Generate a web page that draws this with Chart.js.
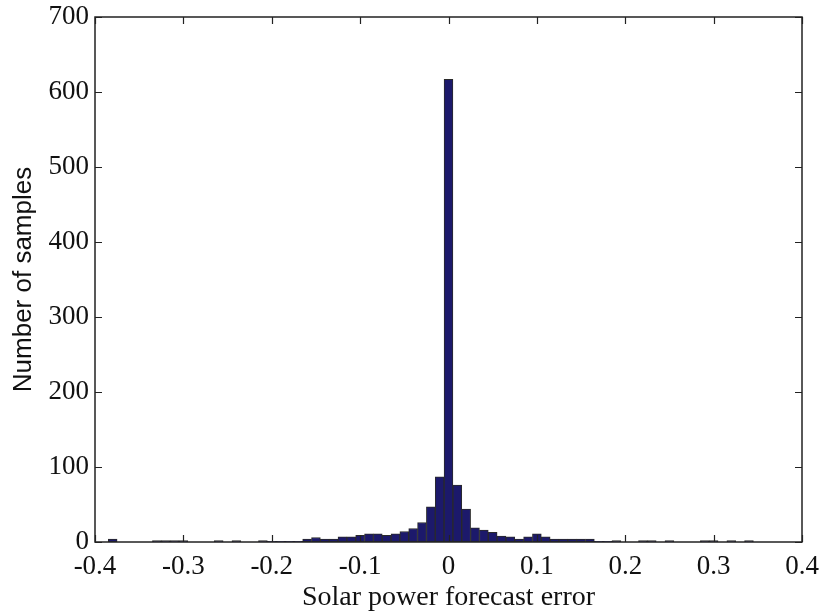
<!DOCTYPE html>
<html>
<head>
<meta charset="utf-8">
<script src="https://cdn.jsdelivr.net/npm/chart.js@4/dist/chart.umd.min.js"></script>
<style>
  html, body { margin: 0; padding: 0; background: #fff; }
  canvas { display: block; }
</style>
</head>
<body>
<canvas id="hist" width="823" height="616"></canvas>
<script>
//======== DATA: histogram of solar power forecast error ===========//

// bin centres (width 0.01)
let binCenters = [
    -0.38, -0.37, -0.36, -0.35, -0.34, -0.33, -0.32, -0.31, -0.30, -0.29,
    -0.28, -0.27, -0.26, -0.25, -0.24, -0.23, -0.22, -0.21, -0.20, -0.19,
    -0.18, -0.17, -0.16, -0.15, -0.14, -0.13, -0.12, -0.11, -0.10, -0.09,
    -0.08, -0.07, -0.06, -0.05, -0.04, -0.03, -0.02, -0.01,  0.00,  0.01,
     0.02,  0.03,  0.04,  0.05,  0.06,  0.07,  0.08,  0.09,  0.10,  0.11,
     0.12,  0.13,  0.14,  0.15,  0.16,  0.17,  0.18,  0.19,  0.20,  0.21,
     0.22,  0.23,  0.24,  0.25,  0.26,  0.27,  0.28,  0.29,  0.30,  0.31,
     0.32,  0.33,  0.34,  0.35,  0.36,  0.37,  0.38
];

// number of samples in each bin
let sampleCounts = [
      4,   0,   0,   0,   0,   2,   2,   2,   2,   0,
      0,   0,   2,   0,   2,   0,   0,   2,   1,   1,
      1,   1,   4,   6,   4,   4,   7,   7,   9,  11,
     11,   9,  11,  14,  18,  26,  47,  87, 617,  76,
     44,  19,  16,  13,   8,   7,   4,   7,  11,   7,
      4,   4,   4,   4,   4,   1,   1,   2,   0,   0,
      2,   2,   0,   2,   0,   0,   0,   2,   2,   0,
      2,   0,   2,   0,   0,   0,   0
];

let xTicks = [-0.4, -0.3, -0.2, -0.1, 0, 0.1, 0.2, 0.3, 0.4];
let yTicks = [0, 100, 200, 300, 400, 500, 600, 700];

let xTitle = 'Solar power forecast error';
let yTitle = 'Number of samples';

// box round the plot with inward ticks on all four sides, like matlab
let frame = {
    id: 'frame',
    afterDatasetsDraw: function (chart) {
        let ctx = chart.ctx;
        let a = chart.chartArea;
        let xs = chart.scales.x;
        let ys = chart.scales.y;
        let len = 7;
        ctx.save();
        ctx.strokeStyle = '#222';
        ctx.lineWidth = 1.5;
        ctx.strokeRect(a.left, a.top, a.right - a.left, a.bottom - a.top);
        ctx.lineWidth = 1.2;
        ctx.beginPath();
        xTicks.forEach(function (v) {
            let px = Math.round(xs.getPixelForValue(v)) + 0.5;
            ctx.moveTo(px, a.bottom); ctx.lineTo(px, a.bottom - len);
            ctx.moveTo(px, a.top);    ctx.lineTo(px, a.top + len);
        });
        yTicks.forEach(function (v) {
            let py = Math.round(ys.getPixelForValue(v)) + 0.5;
            ctx.moveTo(a.left, py);  ctx.lineTo(a.left + len, py);
            ctx.moveTo(a.right, py); ctx.lineTo(a.right - len, py);
        });
        ctx.stroke();
        ctx.restore();
    }
};

let serif = 'Liberation Serif, Times New Roman, serif';

new Chart(document.getElementById('hist').getContext('2d'), {
    type: 'bar',
    data: {
        datasets: [{
            label: 'samples',
            data: binCenters.map(function (x, i) { return { x: x, y: sampleCounts[i] }; }),
            backgroundColor: '#1c196b',
            borderColor: '#2a2a2a',
            borderWidth: 1,
            borderSkipped: false,
            barPercentage: 1,
            categoryPercentage: 1
        }]
    },
    plugins: [frame],
    options: {
        responsive: false,
        animation: false,
        devicePixelRatio: 1,
        layout: { padding: { top: 17, right: 21, left: 0, bottom: 0 } },
        plugins: {
            legend: { display: false },
            tooltip: { enabled: false }
        },
        scales: {
            x: {
                type: 'linear',
                offset: false,
                min: -0.4,
                max: 0.4,
                afterBuildTicks: function (s) { s.ticks = xTicks.map(function (v) { return { value: v }; }); },
                afterFit: function (s) {
                    s.height = 74;
                    s.paddingLeft = 0;
                    s.paddingRight = 0;
                },
                grid: { display: false, drawTicks: false, offset: false },
                border: { display: false },
                ticks: {
                    autoSkip: false,
                    maxRotation: 0,
                    padding: 9,
                    color: '#111',
                    font: { family: serif, size: 27 },
                    callback: function (v) { return String(Number(v.toFixed(1))); }
                },
                title: {
                    display: true,
                    text: xTitle,
                    color: '#111',
                    font: { family: serif, size: 28 },
                    padding: { top: 0, bottom: 2 }
                }
            },
            y: {
                type: 'linear',
                min: 0,
                max: 700,
                afterBuildTicks: function (s) { s.ticks = yTicks.map(function (v) { return { value: v }; }); },
                afterFit: function (s) {
                    s.width = 95;
                    s.paddingTop = 0;
                    s.paddingBottom = 0;
                },
                grid: { display: false, drawTicks: false },
                border: { display: false },
                ticks: {
                    autoSkip: false,
                    padding: 6,
                    color: '#111',
                    font: { family: serif, size: 27 }
                },
                title: {
                    display: true,
                    text: yTitle,
                    color: '#111',
                    font: { family: 'Liberation Sans, Arial, sans-serif', size: 26 },
                    padding: { top: 8, bottom: 0 }
                }
            }
        }
    }
});
</script>
</body>
</html>
